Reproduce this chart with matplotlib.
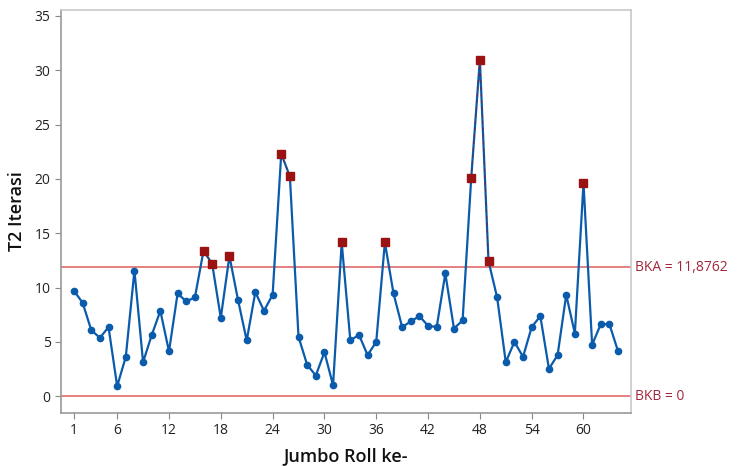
"""T2 control chart (iterasi) for jumbo rolls"""

import matplotlib
matplotlib.use('Agg')
import matplotlib.pyplot as plt
import numpy as np

# data
roll = list(range(1, 65))
t2 = [9.70, 8.60, 6.08, 5.37, 6.36, 0.92, 3.62, 11.57, 3.13, 5.62,
      7.86, 4.12, 9.46, 8.72, 9.09, 13.38, 12.19, 7.21, 12.90, 8.84,
      5.13, 9.58, 7.86, 9.33, 22.32, 20.23, 5.46, 2.89, 1.90, 4.05,
      1.01, 14.15, 5.13, 5.65, 3.78, 5.00, 14.15, 9.46, 6.36, 6.88,
      7.37, 6.48, 6.36, 11.30, 6.23, 6.97, 20.10, 30.98, 12.43, 9.09,
      3.13, 5.00, 3.62, 6.36, 7.37, 2.52, 3.78, 9.33, 5.77, 19.62,
      4.73, 6.63, 6.63, 4.14]
bka = 11.8762
bkb = 0
xticks = [1, 6, 12, 18, 24, 30, 36, 42, 48, 54, 60]
yticks = [0, 5, 10, 15, 20, 25, 30, 35]

BLUE = '#0a5bab'
DARKRED = '#9b1212'
LIMIT = '#e06a6a'
LABEL = '#a0283c'

plt.rcParams['font.family'] = ['Open Sans', 'DejaVu Sans']

fig = plt.figure(figsize=(7.38, 4.66), dpi=100)
ax = fig.add_axes([0.0827, 0.1137, 0.7723, 0.8648])

x = np.array(roll)
y = np.array(t2)
out = y > bka

ax.axhline(bka, color=LIMIT, lw=1.2, zorder=1)
ax.axhline(bkb, color=LIMIT, lw=1.2, zorder=1)

ax.plot(x, y, color=BLUE, lw=1.6, marker='o', ms=4.5, mfc=BLUE, mec=BLUE, zorder=2)
# thin dashed red overlay between consecutive out-of-control points
for i in range(len(x) - 1):
    if out[i] and out[i + 1]:
        ax.plot(x[i:i + 2], y[i:i + 2], color=DARKRED, lw=0.7, ls=(0, (3, 4)),
                alpha=0.8, zorder=3)
ax.plot(x[out], y[out], ls='none', marker='s', ms=5.5, mfc=DARKRED, mec=DARKRED, zorder=4)

ax.set_xlim(-0.5, 65.5)
ax.set_ylim(-1.55, 35.55)
ax.set_xticks(xticks)
ax.set_yticks(yticks)
ax.tick_params(labelsize=10, color='#888888', length=4, direction='out', labelcolor='#222222')

for side in ['left', 'bottom']:
    ax.spines[side].set_color('#999999')
    ax.spines[side].set_linewidth(1.2)
for side in ['top', 'right']:
    ax.spines[side].set_color('#c8c8c8')
    ax.spines[side].set_linewidth(1.2)

ax.set_xlabel('Jumbo Roll ke-', fontsize=13, fontweight='semibold', color='#111111', labelpad=6)
ax.set_ylabel('T2 Iterasi', fontsize=13, fontweight='semibold', color='#111111', labelpad=6)

ax.text(1.007, bka, 'BKA = 11,8762', transform=ax.get_yaxis_transform(),
        color=LABEL, fontsize=10, va='center', ha='left', clip_on=False)
ax.text(1.007, bkb, 'BKB = 0', transform=ax.get_yaxis_transform(),
        color=LABEL, fontsize=10, va='center', ha='left', clip_on=False)

fig.savefig('out.png', dpi=100)
